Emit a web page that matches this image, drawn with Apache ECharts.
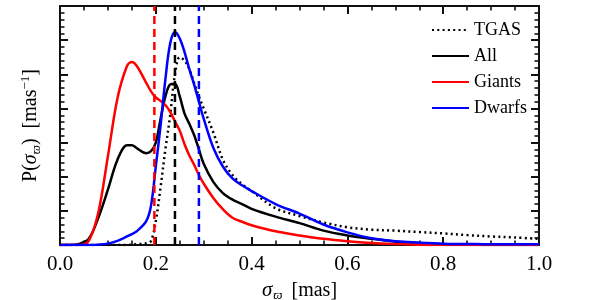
<!DOCTYPE html>
<html><head><meta charset="utf-8">
<script src="https://cdn.jsdelivr.net/npm/echarts@6/dist/echarts.min.js"></script>
<style>html,body{margin:0;padding:0;background:#fff}#c{width:600px;height:300px}</style>
</head><body><div id="c"></div>
<script>
var xs = [0, 0.02, 0.04, 0.06, 0.08, 0.10, 0.12, 0.14, 0.15, 0.16, 0.18, 0.19, 0.20, 0.21, 0.22, 0.23, 0.24, 0.25, 0.26, 0.27, 0.28, 0.29, 0.30, 0.32, 0.34, 0.36, 0.38, 0.40, 0.45, 0.50, 0.55, 0.60, 0.65, 0.70, 0.75, 0.80, 0.85, 0.90, 0.95, 1.00];
var tgas   = [0,0,0,0,0,0,0,0,0.01,0.02,0.05,0.12,0.7,1.7,2.8,3.8,5.0,5.5,5.4,5.15,4.75,4.35,4.0,3.3,2.5,2.05,1.78,1.58,1.08,0.85,0.66,0.52,0.45,0.42,0.38,0.34,0.29,0.25,0.22,0.18];
var allS   = [0,0,0.03,0.18,0.8,1.62,2.5,2.92,2.92,2.84,2.69,2.75,3.0,3.7,4.35,4.7,4.72,4.35,3.85,3.55,3.22,2.8,2.38,1.85,1.52,1.33,1.2,1.06,0.83,0.64,0.42,0.28,0.18,0.1,0.05,0.02,0.01,0,0,0];
var giants = [0,0,0,0.12,0.95,2.6,4.3,5.25,5.36,5.25,4.75,4.5,4.32,4.22,4.1,3.9,3.62,3.35,2.95,2.62,2.35,2.05,1.8,1.38,1.05,0.8,0.68,0.58,0.4,0.28,0.18,0.11,0.06,0.03,0.01,0,0,0,0,0];
var dwarfs = [0,0,0,0,0.01,0.04,0.12,0.25,0.32,0.4,0.7,1.15,2.3,3.5,4.85,5.9,6.24,6.05,5.65,5.15,4.7,4.2,3.7,2.85,2.3,1.95,1.75,1.58,1.2,0.92,0.6,0.37,0.2,0.11,0.07,0.04,0.03,0.02,0.02,0.02];
var medians = [0.197, 0.240, 0.290];
var medianColors = ['#ff0000', '#000000', '#0000ff'];
var xTicks = ['0.0','0.2','0.4','0.6','0.8','1.0'];

function pairs(arr){ return xs.map(function(x,i){ return [x, arr[i]]; }); }
var FONT = '"Liberation Serif","DejaVu Serif",serif';

var chart = echarts.init(document.getElementById('c'));
function ax(pos, mx, iv, split){
  return {type:'value', position:pos, min:0, max:mx, interval:iv,
    axisLine:{show:true, onZero:false, lineStyle:{color:'#111', width:2}},
    axisTick:{show:true, inside:true, length:8, lineStyle:{color:'#111', width:2}},
    minorTick:{show:true, splitNumber:split, length:4.5, lineStyle:{color:'#111', width:1.6}},
    splitLine:{show:false}, axisLabel:{show:false}};
}
var xMain = ax('bottom', 1, 0.2, 4);
xMain.axisLabel = {show:true, color:'#000', fontFamily:FONT, fontSize:21, margin:9,
  formatter:function(v){ return xTicks[Math.round(v/0.2)]; }};
xMain.name = '{i|σ}{s|ϖ} [mas]';
xMain.nameLocation = 'middle';
xMain.nameGap = 32;
xMain.nameTextStyle = {color:'#000', fontFamily:FONT, fontSize:20,
  rich:{i:{fontFamily:FONT,fontSize:21,fontStyle:'italic',color:'#000',lineHeight:24,verticalAlign:'middle'},
        s:{fontFamily:FONT,fontSize:13,fontStyle:'italic',color:'#000',lineHeight:24,verticalAlign:'bottom',padding:[0,4,0,1]}}};
var yMain = ax('left', 7, 1, 5);
yMain.name = 'P({i|σ}{s|ϖ})  [mas{p|−1}]';
yMain.nameLocation = 'middle';
yMain.nameGap = 17;
yMain.nameRotate = 90;
yMain.nameTextStyle = {color:'#000', fontFamily:FONT, fontSize:20,
  rich:{i:{fontFamily:FONT,fontSize:20,fontStyle:'italic',color:'#000',lineHeight:24,verticalAlign:'middle'},
        s:{fontFamily:FONT,fontSize:13,fontStyle:'italic',color:'#000',lineHeight:24,verticalAlign:'bottom'},
        p:{fontFamily:FONT,fontSize:13,color:'#000',lineHeight:24,verticalAlign:'top'}}};

var series = [
  {name:'TGAS', data:pairs(tgas), color:'#000', lineStyle:{type:[2,3.3], width:2.5, color:'#000'}},
  {name:'All', data:pairs(allS), color:'#000', lineStyle:{width:2.5, color:'#000'}},
  {name:'Giants', data:pairs(giants), color:'#ff0000', lineStyle:{width:2.5, color:'#ff0000'}},
  {name:'Dwarfs', data:pairs(dwarfs), color:'#0000ff', lineStyle:{width:2.5, color:'#0000ff'}}
].map(function(s){
  return Object.assign({type:'line', symbol:'none', smooth:0.35}, s);
});
medians.forEach(function(m,i){
  series.push({type:'line', name:'median'+i, symbol:'none',
    data:[[m,0],[m,7]], lineStyle:{type:[8,5], width:2.5, color:medianColors[i]}, color:medianColors[i]});
});
series.push({type:'line', name:'frame', xAxisIndex:1, yAxisIndex:1, symbol:'none', silent:true,
  data:[[0,0],[1,7]], lineStyle:{opacity:0, width:0}});

chart.setOption({
  animation:false,
  grid:{left:60, right:61, top:6, bottom:55, outerBoundsMode:'none'},
  xAxis:[xMain, ax('top', 1, 0.2, 4)],
  yAxis:[yMain, ax('right', 7, 1, 5)],
  legend:{data:['TGAS','All','Giants','Dwarfs'], orient:'vertical', left:426, top:16,
    itemWidth:37, itemHeight:12, itemGap:8, align:'left',
    itemStyle:{opacity:0},
    textStyle:{color:'#000', fontFamily:FONT, fontSize:18, lineHeight:18},
    selectedMode:false},
  series:series
});
</script></body></html>
